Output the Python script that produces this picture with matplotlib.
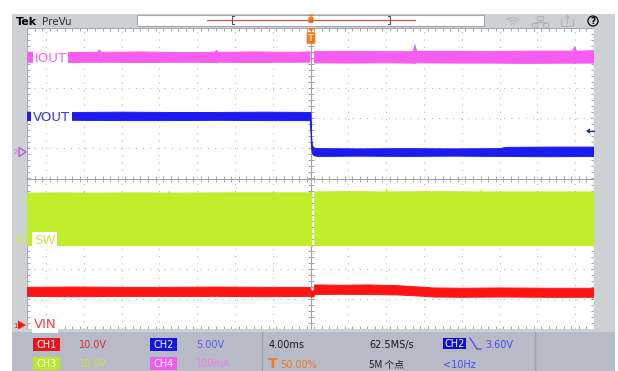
import numpy as np
import matplotlib
matplotlib.use('Agg')
import matplotlib.pyplot as plt
from matplotlib.patches import Rectangle, Polygon, Circle, Arc, FancyBboxPatch

plt.rcParams['font.family'] = ['DejaVu Sans', 'Noto Sans CJK SC']

# ── traces: time in ms (4 ms/div, trigger at 0), level in divisions ──────────
IOUT_T_PRE = [-30, -26, -22.6, -22.4, -22.2, -18, -14, -10.2, -10.0, -9.8, -6, -2, -0.1]
IOUT_HI_PRE = [4.21, 4.20, 4.21, 4.29, 4.21, 4.22, 4.20, 4.21, 4.27, 4.21, 4.22, 4.21, 4.22]
IOUT_LO_PRE = [3.88, 3.87, 3.88, 3.87, 3.88, 3.87, 3.88, 3.87, 3.86, 3.88, 3.87, 3.88, 3.88]
IOUT_T_POST = [0.35, 4, 8, 10.8, 11.0, 11.2, 15, 19, 23, 27.7, 27.9, 28.1, 30]
IOUT_HI_POST = [4.23, 4.24, 4.23, 4.23, 4.45, 4.24, 4.24, 4.23, 4.25, 4.25, 4.40, 4.25, 4.26]
IOUT_LO_POST = [3.86, 3.85, 3.86, 3.85, 3.84, 3.86, 3.85, 3.85, 3.84, 3.85, 3.84, 3.85, 3.85]

VOUT_T = [-30, -25, -20, -15, -10, -5, -0.05, 0.0, 0.06, 0.15, 0.3, 0.5, 0.8,
          5, 10, 15, 20, 20.6, 25, 30]
VOUT_HI = [2.22, 2.21, 2.22, 2.21, 2.21, 2.22, 2.21, 2.21, 1.40, 1.12, 1.04, 1.01, 1.01,
           1.00, 1.01, 1.00, 1.01, 1.05, 1.06, 1.06]
VOUT_LO = [1.94, 1.95, 1.94, 1.94, 1.95, 1.94, 1.94, 1.55, 1.05, 0.85, 0.78, 0.76, 0.75,
           0.76, 0.75, 0.76, 0.75, 0.75, 0.74, 0.75]

SW_T_PRE = [-30, -26, -24.1, -24.0, -23.9, -18, -15.1, -15.0, -14.9, -9, -4.1, -4.0, -3.9, 0.05]
SW_HI_PRE = [-0.47, -0.46, -0.47, -0.40, -0.47, -0.46, -0.47, -0.41, -0.47, -0.46,
             -0.46, -0.42, -0.46, -0.46]
SW_LO_PRE = [-2.21] * 14
SW_T_POST = [0.4, 4, 7.9, 8.0, 8.1, 13, 17.9, 18.0, 18.1, 24, 30]
SW_HI_POST = [-0.43, -0.42, -0.43, -0.35, -0.43, -0.42, -0.43, -0.37, -0.43, -0.43, -0.43]
SW_LO_POST = [-2.21] * 11

VIN_T = [-30, -25, -20, -15, -10, -5, -0.1, 0.0, 0.3, 0.4, 3, 6, 9, 11, 13, 16, 20, 25, 30]
VIN_HI = [-3.60, -3.59, -3.60, -3.60, -3.59, -3.60, -3.60, -3.72, -3.72, -3.52, -3.53,
          -3.52, -3.54, -3.58, -3.62, -3.63, -3.62, -3.63, -3.63]
VIN_LO = [-3.90, -3.91, -3.90, -3.90, -3.90, -3.91, -3.90, -3.92, -3.92, -3.84, -3.83,
          -3.84, -3.85, -3.88, -3.92, -3.93, -3.92, -3.93, -3.93]

C_IOUT, C_VOUT, C_SW, C_VIN = '#f75cf0', '#1c1cf2', '#c0ee2a', '#ff1414'
FRAME, PANEL = '#cdd1d4', '#b7bbc7'

fig = plt.figure(figsize=(6.18, 3.71), dpi=100)

# ── scope screen ──────────────────────────────────────────────────────────────
ax = fig.add_axes([27 / 618, 42 / 371, 567 / 618, 301 / 371])
ax.set_xlim(-30, 30)
ax.set_ylim(-5, 5)
ax.set_xticks([])
ax.set_yticks([])
for s in ax.spines.values():
    s.set_color('#a8acb0')
    s.set_linewidth(0.8)

grid_c, axis_c = '#b9b9b9', '#a4a4a4'
for xv in range(-28, 29, 4):
    if xv == 0:
        ax.axvline(0, color=axis_c, lw=0.8, zorder=1)
    else:
        ax.axvline(xv, color=grid_c, lw=0.8, ls=(0, (1, 5.5)), zorder=1)
for yv in range(-4, 5):
    if yv == 0:
        ax.axhline(0, color=axis_c, lw=0.8, zorder=1)
    else:
        ax.axhline(yv, color=grid_c, lw=0.8, ls=(0, (1, 5.5)), zorder=1)

mt = np.arange(-30, 30.01, 0.8)
mv = np.arange(-5, 5.01, 0.2)
for yy in (0, 5, -5):
    ax.plot(mt, np.full_like(mt, yy), ls='none', marker='|', ms=4, mew=0.7,
            color=axis_c, zorder=1)
for xx in (0, 30, -30):
    ax.plot(np.full_like(mv, xx), mv, ls='none', marker='_', ms=4, mew=0.7,
            color=axis_c, zorder=1)


def band(t, hi, lo, color):
    ax.fill_between(t, lo, hi, color=color, lw=0.7, edgecolor=color, zorder=3)


band(IOUT_T_PRE, IOUT_HI_PRE, IOUT_LO_PRE, C_IOUT)
band(IOUT_T_POST, IOUT_HI_POST, IOUT_LO_POST, C_IOUT)
band(VOUT_T, VOUT_HI, VOUT_LO, C_VOUT)
band(SW_T_PRE, SW_HI_PRE, SW_LO_PRE, C_SW)
band(SW_T_POST, SW_HI_POST, SW_LO_POST, C_SW)
band(VIN_T, VIN_HI, VIN_LO, C_VIN)

# ── overlay in pixel coordinates ──────────────────────────────────────────────
ov = fig.add_axes([0, 0, 1, 1], zorder=5)
ov.set_xlim(0, 618)
ov.set_ylim(371, 0)
ov.axis('off')
ov.patch.set_alpha(0)

ov.add_patch(Rectangle((12, 14), 603, 14, fc=FRAME, ec='none'))
ov.add_patch(Rectangle((12, 14), 15, 318, fc=FRAME, ec='none'))
ov.add_patch(Rectangle((594, 14), 21, 318, fc=FRAME, ec='none'))
ov.add_patch(Rectangle((12, 329), 603, 3, fc=FRAME, ec='none'))
ov.add_patch(Rectangle((12, 332), 603, 39, fc=PANEL, ec='none'))
for xd in (262, 535):
    ov.plot([xd, xd], [332, 371], color='#9da1ad', lw=1)

# top bar
ov.text(15.5, 25, 'Tek', fontsize=8, fontweight='bold', color='black')
ov.text(42, 25, 'PreVu', fontsize=7.5, color='#333333')
ov.add_patch(Rectangle((137, 14.5), 347, 11, fc='white', ec='#a4a8ac', lw=0.8))
ov.plot([207, 415], [19.5, 19.5], color='#f04a3a', lw=0.8)
ov.plot([234, 232, 232, 234], [16, 16, 24, 24], color='#555555', lw=0.8)
ov.plot([388, 390, 390, 388], [16, 16, 24, 24], color='#555555', lw=0.8)
ov.add_patch(Polygon([(308, 14.5), (314, 14.5), (311, 17)], fc='#f07a20', ec='none'))
ov.add_patch(FancyBboxPatch((309, 17.5), 4, 5, boxstyle='round,pad=0.6',
                            fc='#f07a20', ec='none'))

icon_c = '#b4b8bc'
for r in (2.5, 5.5, 8.5):
    ov.add_patch(Arc((513, 26), 2 * r, 2 * r, theta1=225, theta2=315, color=icon_c, lw=1))
ov.add_patch(Rectangle((537, 15.5), 6, 4, fc='none', ec=icon_c, lw=0.9))
ov.plot([540, 540], [19.5, 22], color=icon_c, lw=0.9)
ov.plot([534.5, 545.5], [22, 22], color=icon_c, lw=0.9)
ov.add_patch(Rectangle((532, 23), 5, 3.5, fc='none', ec=icon_c, lw=0.9))
ov.add_patch(Rectangle((543, 23), 5, 3.5, fc='none', ec=icon_c, lw=0.9))
ov.plot([561, 561, 573, 573], [19, 26, 26, 19], color=icon_c, lw=0.9)
ov.plot([567, 567], [23, 15.5], color=icon_c, lw=0.9)
ov.plot([564.5, 567, 569.5], [18, 15.5, 18], color=icon_c, lw=0.9)
ov.add_patch(Circle((593, 21), 5, fc='none', ec='black', lw=0.9))
ov.text(593, 21.3, '?', fontsize=6.5, color='black', ha='center', va='center',
        fontweight='bold')

# trigger position marker on screen
ov.add_patch(Polygon([(307, 28), (315, 28), (311, 31.5)], fc='#f07a20', ec='none'))
ov.add_patch(FancyBboxPatch((307.5, 33), 7, 10, boxstyle='round,pad=0.8',
                            fc='#f07a20', ec='none'))
ov.text(311, 38.5, 'T', fontsize=6, color='#ffe0c0', ha='center', va='center',
        fontweight='bold')

# trigger level arrow
ov.add_patch(Polygon([(586, 131), (590, 128.3), (590, 133.7)], fc=C_VOUT, ec='none'))
ov.plot([590, 594], [131, 131], color=C_VOUT, lw=0.9)

# channel ground markers
ov.text(13.5, 154.5, '2', fontsize=5, color='#e060e0')
ov.add_patch(Polygon([(19, 147.5), (19, 156.5), (26, 152)], fc='none', ec='#c84ae6', lw=0.9))
ov.text(13.5, 241.5, '3', fontsize=5, color='#c8e860')
ov.add_patch(Polygon([(19, 234.5), (19, 243.5), (26, 239)], fc='none', ec='#c8e860', lw=0.9))
ov.text(13, 327.5, '1', fontsize=5, color=C_VIN)
ov.add_patch(Polygon([(18, 320.5), (18, 329.5), (26, 325)], fc=C_VIN, ec='none'))

# trace labels
lbl_box = dict(facecolor='white', edgecolor='none', pad=1.2)
ov.text(34.5, 62, 'IOUT', fontsize=9.5, color='#f366f0', bbox=lbl_box)
ov.text(33, 121, 'VOUT', fontsize=9.5, color='#3434f0', bbox=lbl_box)
ov.text(34, 244, 'SW', fontsize=9.5, color='#c6ea4c', bbox=lbl_box)
ov.text(34, 328, 'VIN', fontsize=9.5, color='#ff3a3a', bbox=lbl_box)

# bottom status panel
fs = 7
ch_boxes = [
    (33, 338, 'CH1', '#e8141e', '10.0V', '#e0283a'),
    (150, 338, 'CH2', '#1414e0', '5.00V', '#5c5ce6'),
    (33, 357, 'CH3', '#b8e82a', '10.0V', '#c6e448'),
    (150, 357, 'CH4', '#f05cf0', '100mA', '#f07cf0'),
]
for bx, by, name, bc, val, vc in ch_boxes:
    ov.add_patch(Rectangle((bx, by), 27, 13, fc=bc, ec='none'))
    ov.text(bx + 13.5, by + 10.3, name, fontsize=fs, color='white', ha='center')
    ov.text(bx + 46, by + 10.3, val, fontsize=fs, color=vc)

ov.text(269, 348.3, '4.00ms', fontsize=fs, color='#1a1a1a')
ov.text(268, 368.5, 'T', fontsize=10, color='#f07a20', fontweight='bold')
ov.text(280, 368, '50.00%', fontsize=fs, color='#f07a20')
ov.text(369, 348.3, '62.5MS/s', fontsize=fs, color='#1a1a1a')
ov.text(369, 368, '5M 个点', fontsize=fs, color='#1a1a1a',
        family=['Noto Sans CJK SC', 'DejaVu Sans'])
ov.add_patch(Rectangle((443, 338), 23, 11, fc='#0a0adc', ec='none'))
ov.text(454.5, 347, 'CH2', fontsize=fs, color='white', ha='center')
ov.plot([470, 477, 481], [338, 349, 349], color='#4a4af0', lw=0.9)
ov.text(485, 348.3, '3.60V', fontsize=fs, color='#4a4af0')
ov.text(443, 368, '<10Hz', fontsize=fs, color='#4a4af0')

fig.savefig('out.png', dpi=100)
plt.close(fig)
